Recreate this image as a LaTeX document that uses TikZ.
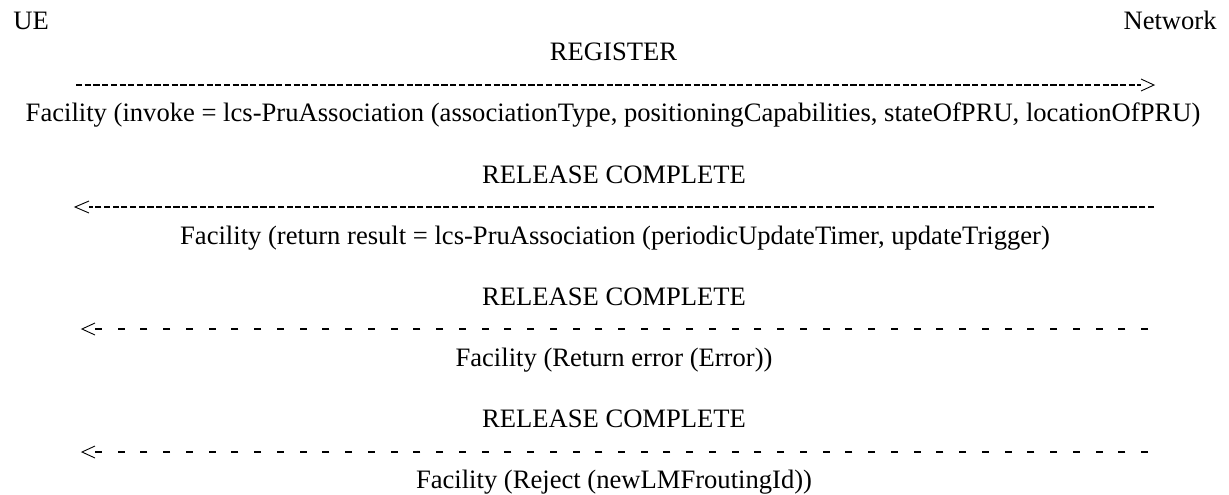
\documentclass[tikz,border=0pt]{standalone}
\usepackage{fontspec}
\setmainfont{Liberation Serif}
\begin{document}
\begin{tikzpicture}[x=0.5pt,y=-0.5pt,
  lbl/.style={inner sep=0pt,anchor=base,font=\fontsize{13.3}{16}\selectfont},
  dense/.style={line width=0.75pt,dash pattern=on 3.1pt off 1.25pt},
  sparse/.style={line width=0.75pt,dash pattern=on 3.5pt off 7.87pt},
  tipline/.style={line width=0.45pt,line join=miter}]
\useasboundingbox (0,0) rectangle (1229,494);
% lifeline labels
\node[lbl,anchor=base west] (ue) at (13,29.5) {UE};
\node[lbl,anchor=base east] (nw) at (1217,29.5) {Network};
% block 1
\node[lbl] (reg) at (613.5,60) {REGISTER};
\coordinate (a1l) at (76,85);
\coordinate (a1m) at (1141,85);
\coordinate (a1t) at (1154,85);
\draw[dense] (a1l) -- (a1m);
\draw[tipline] ([yshift=3pt]a1m) -- (a1t) -- ([yshift=-3pt]a1m);
\node[lbl] (f1) at (613,121) {Facility (invoke = lcs-PruAssociation (associationType, positioningCapabilities, stateOfPRU, locationOfPRU)};
% block 2
\node[lbl] (rc2) at (614,183) {RELEASE COMPLETE};
\coordinate (a2r) at (1154,207);
\coordinate (a2m) at (89,207);
\coordinate (a2t) at (75,207);
\draw[dense] (a2r) -- (a2m);
\draw[tipline] ([yshift=3pt]a2m) -- (a2t) -- ([yshift=-3pt]a2m);
\node[lbl] (f2) at (615,244) {Facility (return result = lcs-PruAssociation (periodicUpdateTimer, updateTrigger)};
% block 3
\node[lbl] (rc3) at (614,305) {RELEASE COMPLETE};
\coordinate (a3r) at (1148,329);
\coordinate (a3m) at (95,329);
\coordinate (a3t) at (82,329);
\draw[sparse] (a3r) -- (a3m);
\draw[tipline] ([yshift=3pt]a3m) -- (a3t) -- ([yshift=-3pt]a3m);
\node[lbl] (f3) at (614,366) {Facility (Return error (Error))};
% block 4
\node[lbl] (rc4) at (614,427.5) {RELEASE COMPLETE};
\coordinate (a4r) at (1148,452);
\coordinate (a4m) at (95,452);
\coordinate (a4t) at (82,452);
\draw[sparse] (a4r) -- (a4m);
\draw[tipline] ([yshift=3pt]a4m) -- (a4t) -- ([yshift=-3pt]a4m);
\node[lbl] (f4) at (614,488.5) {Facility (Reject (newLMFroutingId))};
\end{tikzpicture}
\end{document}
